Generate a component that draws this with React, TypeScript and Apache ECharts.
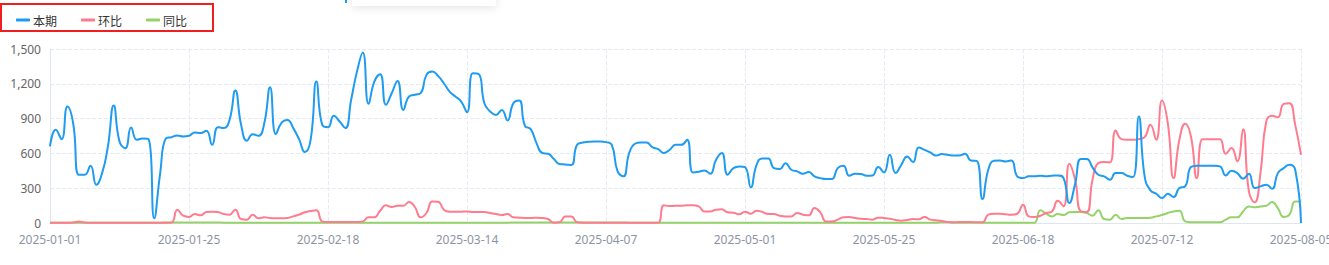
import React, { useEffect, useRef } from "react";
import * as echarts from "echarts";

const startDate = "2025-01-01";
const dayCount = 217;

const benqi = [
  660, 803, 723, 1004, 860, 416, 416, 493, 330, 430,
  660, 1013, 703, 645, 823, 717, 728, 723, 40, 420,
  728, 740, 755, 746, 752, 780, 775, 795, 674, 826,
  818, 889, 1142, 846, 709, 766, 752, 860, 1170, 766,
  866, 889, 818, 723, 611, 717, 1219, 846, 826, 924,
  875, 818, 1062, 1305, 1469, 1027, 1219, 1282, 1019, 1119,
  1225, 975, 1090, 1105, 1119, 1277, 1305, 1268, 1205, 1133,
  1090, 1047, 955, 1291, 1285, 1033, 961, 932, 975, 884,
  1033, 1056, 838, 809, 689, 603, 597, 551, 508, 505,
  499, 674, 694, 700, 703, 703, 697, 674, 445, 402,
  603, 683, 694, 694, 654, 637, 603, 631, 674, 674,
  717, 436, 442, 453, 425, 545, 603, 416, 473, 488,
  482, 307, 502, 557, 557, 473, 465, 516, 459, 445,
  425, 439, 402, 387, 379, 379, 473, 493, 407, 425,
  422, 407, 410, 482, 436, 588, 430, 502, 574, 525,
  651, 631, 608, 582, 594, 588, 582, 582, 597, 539,
  536, 207, 459, 536, 539, 531, 539, 402, 387, 402,
  402, 407, 402, 407, 410, 387, 172, 339, 551, 551,
  480, 416, 402, 373, 430, 430, 407, 396, 918, 402,
  281, 252, 215, 252, 224, 301, 316, 482, 493, 493,
  493, 493, 488, 410, 450, 430, 382, 425, 301, 316,
  330, 296, 430, 473, 502, 459, 0,
];

const huanbi = [
  3, 3, 3, 3, 5, 12, 5, 3, 3, 3,
  3, 3, 3, 3, 3, 3, 3, 3, 3, 3,
  3, 5, 115, 63, 52, 77, 66, 95, 98, 95,
  77, 72, 115, 34, 29, 72, 40, 49, 43, 40,
  40, 43, 57, 72, 92, 103, 109, 14, 9, 9,
  9, 9, 9, 9, 14, 49, 49, 106, 152, 138,
  149, 149, 181, 138, 49, 86, 186, 184, 115, 98,
  98, 98, 100, 95, 95, 95, 86, 77, 69, 77,
  49, 46, 43, 43, 46, 43, 34, 2, 6, 57,
  57, 6, 2, 2, 2, 2, 2, 2, 2, 2,
  2, 2, 2, 2, 2, 2, 152, 146, 149, 149,
  152, 152, 143, 100, 100, 115, 118, 92, 89, 75,
  98, 80, 106, 95, 77, 77, 63, 57, 57, 86,
  72, 66, 129, 92, 14, 14, 29, 49, 52, 43,
  37, 34, 29, 46, 43, 37, 26, 20, 26, 34,
  32, 52, 29, 23, 17, 9, 6, 9, 9, 9,
  6, 6, 72, 80, 80, 75, 72, 80, 158, 57,
  52, 63, 86, 100, 192, 143, 511, 373, 100, 95,
  373, 516, 525, 522, 798, 723, 717, 717, 723, 740,
  846, 717, 1056, 861, 387, 717, 855, 746, 387, 723,
  723, 723, 723, 597, 646, 531, 809, 273, 178, 430,
  875, 924, 912, 1027, 1033, 846, 588,
];

const tongbi = [
  3, 3, 3, 3, 3, 3, 3, 3, 3, 3,
  3, 3, 3, 3, 3, 3, 3, 3, 3, 3,
  4, 4, 4, 4, 4, 4, 4, 4, 4, 4,
  3, 3, 3, 3, 3, 3, 3, 3, 3, 3,
  3, 3, 3, 3, 3, 3, 3, 3, 3, 3,
  3, 3, 3, 3, 3, 3, 3, 3, 3, 3,
  3, 3, 3, 3, 3, 3, 3, 3, 3, 3,
  3, 3, 3, 3, 3, 3, 3, 3, 3, 3,
  4, 4, 4, 4, 4, 4, 4, 4, 4, 4,
  4, 4, 4, 4, 4, 4, 4, 4, 4, 4,
  3, 3, 3, 3, 3, 3, 3, 3, 3, 3,
  3, 3, 3, 3, 3, 3, 3, 3, 3, 3,
  3, 3, 3, 3, 3, 3, 3, 3, 3, 3,
  3, 3, 3, 3, 3, 3, 3, 3, 3, 3,
  3, 3, 3, 3, 3, 3, 3, 3, 3, 3,
  3, 3, 3, 3, 6, 6, 3, 3, 3, 3,
  3, 3, 3, 3, 3, 3, 3, 3, 3, 3,
  3, 109, 80, 57, 77, 69, 92, 95, 95, 86,
  63, 109, 34, 29, 72, 34, 43, 43, 43, 43,
  46, 57, 69, 86, 100, 106, 14, 6, 6, 6,
  6, 6, 6, 29, 49, 49, 100, 143, 135, 143,
  149, 181, 129, 52, 72, 186, 186,
];

const yTicks = { min: 0, max: 1500, interval: 300 };
const seriesNames = ["本期", "环比", "同比"];
const seriesColors = ["#1f9bf0", "#ff7b8e", "#95d36a"];

function buildDates(start: string, count: number): string[] {
  const out: string[] = [];
  const d = new Date(start + "T00:00:00Z");
  for (let i = 0; i < count; i++) {
    const t = new Date(d.getTime() + i * 86400000);
    out.push(t.toISOString().slice(0, 10));
  }
  return out;
}

export default function App() {
  const ref = useRef<HTMLDivElement>(null);
  useEffect(() => {
    document.body.style.margin = "0";
    if (!ref.current) return;
    const chart = echarts.init(ref.current, undefined, { renderer: "svg" });
    const dates = buildDates(startDate, dayCount);
    const data = [benqi, huanbi, tongbi];
    chart.setOption({
      animation: false,
      backgroundColor: "#ffffff",
      color: seriesColors,
      legend: {
        left: 11,
        top: 9,
        icon: "roundRect",
        itemWidth: 14,
        itemHeight: 3,
        itemGap: 24,
        textStyle: { color: "#333", fontSize: 12, fontFamily: "Noto Sans CJK SC", padding: [0, 0, 0, -2] },
        data: seriesNames,
      },
      grid: {
        left: 50,
        right: 28,
        top: 49,
        bottom: 42,
        containLabel: false,
        outerBoundsMode: "none",
      },
      xAxis: {
        type: "category",
        boundaryGap: false,
        data: dates,
        axisLine: { lineStyle: { color: "#e0e6f1" } },
        axisTick: { show: false },
        axisLabel: {
          interval: 23,
          color: "#8d95a5",
          fontSize: 12,
          margin: 10,
          fontFamily: "Noto Sans",
        },
        splitLine: {
          show: true,
          interval: 23,
          lineStyle: { type: "dashed", color: "#e6eaf2" },
        },
      },
      yAxis: {
        type: "value",
        min: yTicks.min,
        max: yTicks.max,
        interval: yTicks.interval,
        axisLine: { show: true, lineStyle: { color: "#e0e6f1" } },
        axisTick: { show: false },
        axisLabel: {
          color: "#666",
          fontSize: 12,
          margin: 9,
          fontFamily: "Noto Sans",
          formatter: (v: number) => v.toLocaleString("en-US"),
        },
        splitLine: { lineStyle: { type: "dashed", color: "#e6eaf2" } },
      },
      graphic: [
        {
          type: "rect",
          shape: { x: 352, y: -20, width: 144, height: 26 },
          style: {
            fill: "#ffffff",
            shadowBlur: 8,
            shadowColor: "rgba(0,0,0,0.10)",
            shadowOffsetY: 2,
          },
          z: 90,
        },
        {
          type: "line",
          shape: { x1: 346, y1: 0, x2: 346, y2: 3 },
          style: { stroke: "#1f9bf0", lineWidth: 2 },
          z: 91,
        },
        {
          type: "rect",
          shape: { x: 1, y: 4, width: 212, height: 27 },
          style: { fill: "none", stroke: "#f01e1e", lineWidth: 2 },
          z: 100,
        },
      ],
      series: seriesNames.map((name, k) => ({
        name,
        type: "line",
        data: data[k],
        smooth: true,
        symbol: "none",
        lineStyle: { width: 2, color: seriesColors[k] },
        itemStyle: { color: seriesColors[k] },
        z: 3 - k,
      })),
    });
    return () => chart.dispose();
  }, []);
  return <div ref={ref} style={{ width: 1329, height: 265 }} />;
}
